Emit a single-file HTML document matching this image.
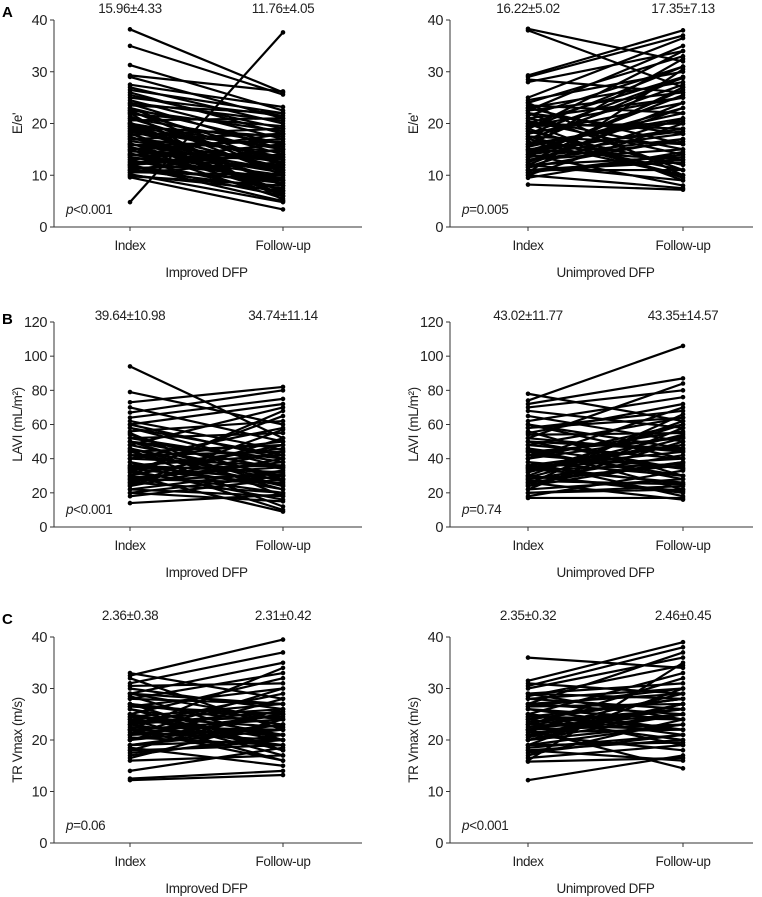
<!DOCTYPE html>
<html><head><meta charset="utf-8"><style>
html,body{margin:0;padding:0;background:#fff}
svg{display:block;font-family:"Liberation Sans Narrow","Liberation Sans",sans-serif}
</style></head><body>
<svg id="fig" width="762" height="897" viewBox="0 0 762 897" xmlns="http://www.w3.org/2000/svg"></svg>
<script>
const categories = ["Index", "Follow-up"];
const aLeftIdx = [38.2,35,31.3,29.3,29,27.5,27,26.5,26,25.5,25,24.5,24,23.8,23.5,23,22.6,22.2,21.8,21.4,21,20.6,20.2,19.8,19.4,19,18.6,18.2,17.8,17.4,17,16.6,16.2,15.8,15.4,15,14.6,14.2,13.8,13.4,13,12.6,12.2,11.8,11.4,11,10.6,10.2,9.8,9.6,4.8,20,18,16,14,12,22,15,13,11,21,19.5,17,15.5,14,12.5,11,10,23,18.5,16,13.5,12,10.5,20,17.5,14.8,11.6,22.5,19];
const aLeftFu = [26,25.6,22.5,26.2,21,23.2,20,22,18,19,21.5,17,20.5,15,22,12,18.5,14,19.5,10,16,21,8,13,17.5,11,15.5,6,19,9,14.5,12.5,7,16.5,10.5,5.5,13.5,8.5,18,11.5,6.5,9.5,15,5,12,7.5,10,4.8,8,3.4,37.6,6,9,11,13,14,5.2,17,16,15,12,8,18,6.5,10,14,9,7,16,11.5,13,9,6,12.5,15,7,11,8.5,10.5,13.5];
const aRightIdx = [38.3,38,29.3,29,28.5,28,25,24.5,24,23.5,23,22.5,22,21.5,21,20.5,20,19.5,19,18.5,18,17.5,17,16.5,16,15.5,15,14.5,14,13.5,13,12.5,12,11.5,11,10.5,10,9.5,8.2,22,20,18,16,14,12,24,19,15,13,11,21,19.5,17,15.5,14,12.5,11,10,23,18.5,16,13.5,12,10.5,20,17.5,14.8,11.6,22.5,19];
const aRightFu = [32,27,38,37,26,34,36.5,30,33,22,28,35,18,31,25,14,29,20,34,12,24,16,27.5,10,21,32.5,13,19,8,26.5,15,23,9,17,11,30.5,7.5,14.5,7.2,11,9,28.8,20.5,25.5,13.5,10,31,18.5,16.5,12.5,15,25,11,22,18,27,13,20,16,12,29,17,24,14,19,10,23,21,26,9.5];
const bLeftIdx = [94,79,73,70,67,64,62,60,58,56,54,52,50,48,46,44,42,40,38,36,34,32,30,28,26,24,22,20,18,14,55,45,35,25,50,40,30,60,33,27,48,42,38,34,30,28,24,22,52,46,40,36,32,26,44,50,58,20,35,29];
const bLeftFu = [52,60,82,50,80,75,45,72,35,62,28,55,40,70,22,48,30,58,10,42,25,65,9,38,20,52,33,15,28,19,18,12,46,57,24,36,68,40,16,31,30,44,22,36,48,26,40,18,38,27,50,32,20,44,24,34,42,30,28,35];
const bRightIdx = [78,74,72,70,68,65,62,60,58,56,54,52,50,48,46,44,42,40,38,36,34,32,30,28,26,24,22,20,18,17,55,45,35,25,50,40,30,60,33,27,48,42,38,34,30,28,24,22,52,46,40,36,32,26,44,50,58,20,35,29];
const bRightFu = [62,106,87,80,58,50,76,40,68,30,55,84,45,64,22,52,35,70,18,48,26,60,20,42,16,38,58,24,33,17,72,28,44,66,34,53,21,46,37,25,40,56,30,48,62,36,50,28,44,34,60,25,54,38,30,46,64,22,40,52];
const cLeftIdx = [33,32.5,32,31,30.5,30,29,28.5,28,27,26.5,26,25,24.5,24,23,22.5,22,21,20.5,20,19,18.5,18,17,16.5,16,14,12.5,12.2,25,23,21,19,27,29,22,24,26,24,23,22,21,20,19,27,25,28,24.5,21.5,23.5,18,26.5,22,20,25,29,17.5];
const cLeftFu = [28,39.5,22,37,31,26,35,20,33,24,30,18,32,27,16,29,22,34,25,19,28,23,15,26,21,24,17,18.5,14,13.2,20,25.5,30,22,18,27,16,21,21,26,19,24,22,25,20,23,18,27,22.5,20,24.5,19,25,21,23,17,24,20];
const cRightIdx = [36,31.5,31,30.5,30,29,28.5,28,27,26.5,26,25,24.5,24,23,22.5,22,21,20.5,20,19,18.5,18,17,16.5,16,15.8,12.2,25,23,21,19,27,29,22,24,26,24,23,22,21,20,19,27,25,28,24.5,21.5,23.5,18,26.5,22,20,25,29,17.5];
const cRightFu = [34,39,29,38,36,31,34.5,26,37,30,22,33,28,20,32,25,29,18,27,23,30,21,16,24,19,35,16.5,17,22,26,27,19.5,25,24,14.5,28,24,28,22,26,25,27,23,29,21,30,24,22,26,20,27,23,25,19,28,21];
const ticksAC = [0,10,20,30,40];
const ticksB = [0,20,40,60,80,100,120];
const headers = [["15.96±4.33","11.76±4.05"],["16.22±5.02","17.35±7.13"],["39.64±10.98","34.74±11.14"],["43.02±11.77","43.35±14.57"],["2.36±0.38","2.31±0.42"],["2.35±0.32","2.46±0.45"]];
const pvals = [["p","<0.001"],["p","=0.005"],["p","<0.001"],["p","=0.74"],["p","=0.06"],["p","<0.001"]];
const groups = ["Improved DFP","Unimproved DFP"];

const NS="http://www.w3.org/2000/svg";
const svg=document.getElementById('fig');
function mk(tag,attrs,parent){const e=document.createElementNS(NS,tag);for(const k in attrs)e.setAttribute(k,attrs[k]);(parent||svg).appendChild(e);return e;}
const TXT={'font-size':13.5,fill:'#222','letter-spacing':'-0.4'};
function txt(attrs,parent){return mk('text',Object.assign({},TXT,attrs),parent);}

const rows=[{y0:227,y1:20,max:40,ticks:ticksAC,ylab:"E/e'",letter:"A",hy:13},
            {y0:527,y1:322,max:120,ticks:ticksB,ylab:"LAVI (mL/m²)",letter:"B",hy:320},
            {y0:843,y1:637,max:40,ticks:ticksAC,ylab:"TR Vmax (m/s)",letter:"C",hy:620}];
const cols=[{ax:54,end:362,xi:130,xf:283,yl:22},{ax:450,end:753,xi:528,xf:683,yl:418}];
const datasets=[[aLeftIdx,aLeftFu],[aRightIdx,aRightFu],[bLeftIdx,bLeftFu],[bRightIdx,bRightFu],[cLeftIdx,cLeftFu],[cRightIdx,cRightFu]];

rows.forEach((r,ri)=>{
  const L=mk('text',{x:2,y:r.hy+4,'font-size':15,'font-weight':'bold','font-family':'Liberation Sans, sans-serif'});
  
  
  L.textContent=r.letter;
  cols.forEach((c,ci)=>{
    const k=ri*2+ci;
    const g=mk('g',{});
    
    
    const ys=v=>r.y0-(v/r.max)*(r.y0-r.y1);
    const xs=i=>i===0?c.xi:c.xf;
    const ya=mk('line',{x1:c.ax,y1:r.y1,x2:c.ax,y2:r.y0,stroke:'#333','stroke-width':1},g);
    
    
    const xa=mk('line',{x1:c.ax,y1:r.y0,x2:c.end,y2:r.y0,stroke:'#333','stroke-width':1},g);
    
    
    r.ticks.forEach(t=>{
      mk('line',{x1:c.ax-4,y1:ys(t),x2:c.ax,y2:ys(t),stroke:'#333'},g);
      const tl=txt({x:c.ax-7,y:ys(t)+5,'text-anchor':'end','font-size':14.5},g);
      
      
      tl.textContent=t;
    });
    categories.forEach((cat,i)=>{
      mk('line',{x1:xs(i),y1:r.y0,x2:xs(i),y2:r.y0+4,stroke:'#333'},g);
      const cl=txt({x:xs(i),y:r.y0+23,'text-anchor':'middle'},g);
      
      
      cl.textContent=cat;
      const hl=txt({x:xs(i),y:r.hy,'text-anchor':'middle'},g);
      
      
      hl.textContent=headers[k][i];
    });
    const gl=txt({x:(c.xi+c.xf)/2,y:r.y0+50,'text-anchor':'middle'},g);
    
    
    gl.textContent=groups[ci];
    const yt=txt({x:c.yl,y:(r.y0+r.y1)/2,'text-anchor':'middle',transform:`rotate(-90 ${c.yl} ${(r.y0+r.y1)/2})`},g);
    
    
    yt.textContent=r.ylab;
    const pt=txt({x:c.ax+12,y:r.y0-13},g);
    
    
    const pi=mk('tspan',{'font-style':'italic'},pt);pi.textContent=pvals[k][0];
    const pr=mk('tspan',{},pt);pr.textContent=pvals[k][1];
    const [idx,fu]=datasets[k];
    idx.forEach((v,j)=>{
      const ln=mk('line',{x1:xs(0),y1:ys(v),x2:xs(1),y2:ys(fu[j]),stroke:'#000','stroke-width':2.2},g);
      
      
      [[0,v],[1,fu[j]]].forEach(([i,val])=>{
        const p=mk('circle',{cx:xs(i),cy:ys(val),r:2.3,fill:'#000'},g);
        
        
      });
    });
  });
});
</script>
</body></html>
